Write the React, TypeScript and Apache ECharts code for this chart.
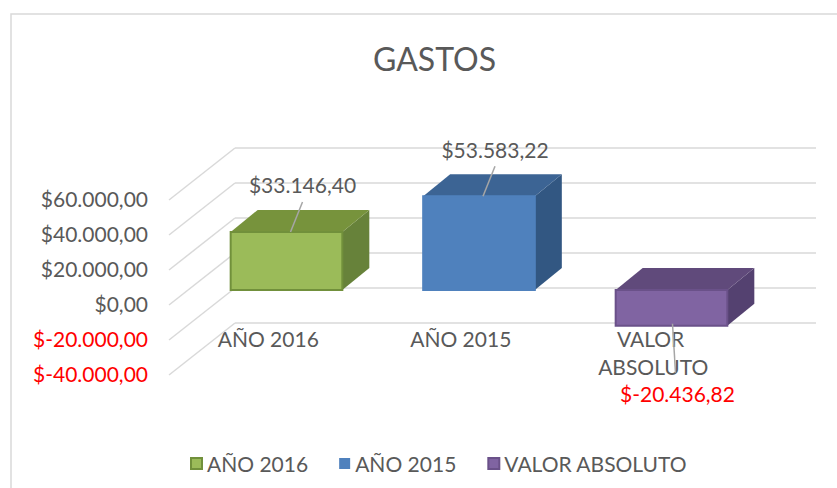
import React, { useEffect, useRef } from 'react';
import * as echarts from 'echarts';

// ---- data ----
const categories = ['AÑO 2016', 'AÑO 2015', 'VALOR ABSOLUTO'];
const values = [33146.4, 53583.22, -20436.82];
const valueTicks = [-40000, -20000, 0, 20000, 40000, 60000];
const AXIS_MIN = -40000;
const AXIS_MAX = 60000;
const AXIS_STEP = 20000;
const titleText = 'GASTOS';

// ---- styles ----
const FONT = 'Lato';
const TEXT = '#595959';
const RED = '#FF0000';
const GRID_LINE = '#D9D9D9';
const faceColors = [
  { front: '#9BBB59', top: '#77933C', side: '#67823A', stroke: '#71903B' },
  { front: '#4F81BD', top: '#3C6494', side: '#325782', stroke: '#4F81BD' },
  { front: '#8064A2', top: '#604A7B', side: '#544170', stroke: '#6A5189' },
];

const fmt = (v: number) => {
  const neg = v < 0;
  const [i, d] = Math.abs(v).toFixed(2).split('.');
  const int = i.replace(/\B(?=(\d{3})+(?!\d))/g, '.');
  return '$' + (neg ? '-' : '') + int + ',' + d;
};

const DEPTH_DX = 27;
const DEPTH_DY = -22;

function makeBarRender(idx: number) {
  const c = faceColors[idx];
  return (params: any, api: any) => {
    const i = api.value(0);
    const v = api.value(1);
    const base = api.coord([i, 0]);
    const end = api.coord([i, v]);
    const bw = api.size([1, 0])[0] * 0.58;
    const cx = base[0];
    const x0 = cx - bw / 2;
    const x1 = cx + bw / 2;
    const yA = Math.min(base[1], end[1]);
    const yB = Math.max(base[1], end[1]);
    const children: any[] = [
      {
        type: 'polygon',
        shape: { points: [[x1, yA], [x1 + DEPTH_DX, yA + DEPTH_DY], [x1 + DEPTH_DX, yB + DEPTH_DY], [x1, yB]] },
        style: { fill: c.side },
      },
      {
        type: 'polygon',
        shape: { points: [[x0, yA], [x0 + DEPTH_DX, yA + DEPTH_DY], [x1 + DEPTH_DX, yA + DEPTH_DY], [x1, yA]] },
        style: { fill: c.top },
      },
      {
        type: 'rect',
        shape: { x: x0, y: yA, width: bw, height: yB - yA },
        style: { fill: c.front, stroke: c.stroke, lineWidth: 2 },
      },
    ];
    if (v >= 0) {
      children.push(
        { type: 'line', shape: { x1: cx + 4, y1: yA, x2: cx + 16, y2: yA - 30 }, style: { stroke: '#A6A6A6', lineWidth: 1.5 } },
        {
          type: 'text',
          x: cx + 16,
          y: yA - 47,
          style: { text: fmt(v), fill: TEXT, font: `21px ${FONT}`, align: 'center', verticalAlign: 'middle' },
        },
      );
    } else {
      children.push(
        { type: 'line', shape: { x1: cx + 1, y1: yB - 2, x2: cx + 4, y2: yB + 47 }, style: { stroke: '#A6A6A6', lineWidth: 1.5 } },
        {
          type: 'text',
          x: cx + 6,
          y: yB + 68,
          style: { text: fmt(v), fill: RED, font: `21px ${FONT}`, align: 'center', verticalAlign: 'middle' },
        },
      );
    }
    return { type: 'group', children };
  };
}

export default function App() {
  const ref = useRef<HTMLDivElement>(null);
  useEffect(() => {
    if (!ref.current) return;
    document.body.style.margin = '0';
    const chart = echarts.init(ref.current, undefined, { renderer: 'svg' });
    const valueAxisBase = { type: 'value', min: AXIS_MIN, max: AXIS_MAX, interval: AXIS_STEP };
    const option: any = {
      animation: false,
      backgroundColor: '#FFFFFF',
      textStyle: { fontFamily: FONT },
      title: {
        text: titleText,
        left: 368,
        top: 37,
        textStyle: { fontFamily: FONT, fontSize: 32, fontWeight: 'normal', color: TEXT },
      },
      graphic: [
        {
          type: 'rect',
          shape: { x: 11, y: 14, width: 900, height: 600 },
          style: { fill: 'none', stroke: GRID_LINE, lineWidth: 1.5 },
          z: -10,
          silent: true,
        },
      ],
      legend: {
        left: 185,
        top: 448,
        itemWidth: 11,
        itemHeight: 11,
        itemGap: 31,
        textStyle: { fontFamily: FONT, fontSize: 21, color: TEXT },
        data: categories.map((name, i) => ({
          name,
          icon: 'rect',
          itemStyle: { color: faceColors[i].front, borderColor: faceColors[i].stroke, borderWidth: i === 1 ? 0 : 2 },
        })),
      },
      grid: [
        // back wall
        { left: 235, right: 21, top: 148, bottom: 165 },
        // front plane
        { left: 172, right: 87.5, top: 198, bottom: 115 },
        // bar plane
        { left: 190.25, right: 69.25, top: 185, bottom: 128 },
      ],
      xAxis: [
        { gridIndex: 0, type: 'category', data: categories, show: false },
        {
          gridIndex: 1,
          type: 'category',
          data: categories,
          offset: -49,
          axisLine: { show: false },
          axisTick: { show: false },
          splitLine: { show: false },
          axisLabel: {
            margin: 0,
            interval: 0,
            fontFamily: FONT,
            fontSize: 21,
            color: TEXT,
            lineHeight: 28,
            width: 140,
            overflow: 'break',
            verticalAlign: 'top',
          },
        },
        { gridIndex: 2, type: 'category', data: categories, show: false },
      ],
      yAxis: [
        {
          ...valueAxisBase,
          gridIndex: 0,
          axisLine: { show: false },
          axisTick: { show: false },
          axisLabel: { show: false },
          splitLine: { show: true, lineStyle: { color: GRID_LINE, width: 1.5 } },
        },
        {
          ...valueAxisBase,
          gridIndex: 1,
          axisLine: { show: false },
          axisTick: { show: false },
          splitLine: { show: false },
          axisLabel: {
            margin: 24,
            fontFamily: FONT,
            fontSize: 21,
            padding: [10, 0, 0, 0],
            formatter: (v: number) => fmt(v),
            color: (v: any) => (Number(v) < 0 ? RED : TEXT),
          },
        },
        { ...valueAxisBase, gridIndex: 2, show: false, splitLine: { show: false } },
      ],
      series: [
        {
          type: 'custom',
          name: '__diag',
          xAxisIndex: 1,
          yAxisIndex: 1,
          silent: true,
          z: 1,
          data: valueTicks.map((t) => [0, t]),
          renderItem: (params: any, api: any) => {
            const y = api.coord([0, api.value(1)])[1];
            const x = params.coordSys.x;
            return {
              type: 'line',
              shape: { x1: x - 3, y1: y + 2, x2: x + 63, y2: y - 50 },
              style: { stroke: GRID_LINE, lineWidth: 1.5 },
            };
          },
        },
        ...categories.map((name, i) => ({
          type: 'custom',
          name,
          xAxisIndex: 2,
          yAxisIndex: 2,
          z: 5,
          data: [[i, values[i]]],
          renderItem: makeBarRender(i),
        })),
      ],
    };
    chart.setOption(option);
    return () => chart.dispose();
  }, []);
  return <div ref={ref} style={{ position: 'fixed', left: 0, top: 0, width: 837, height: 488 }} />;
}
